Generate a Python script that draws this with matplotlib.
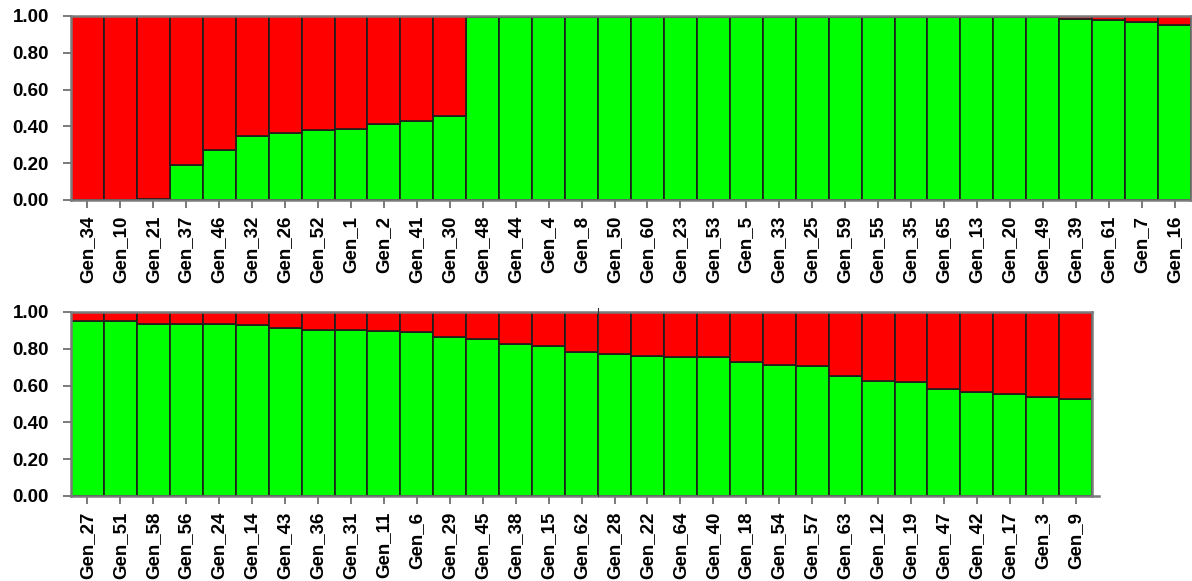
import matplotlib
matplotlib.use("Agg")
import matplotlib.pyplot as plt
import numpy as np
from matplotlib.ticker import FixedLocator, FormatStrFormatter

plt.rcParams['font.family'] = ['Liberation Sans', 'DejaVu Sans']

# Membership proportions for the green cluster; red is the remainder (1 - green)
top_labels = ["Gen_34", "Gen_10", "Gen_21", "Gen_37", "Gen_46", "Gen_32", "Gen_26",
              "Gen_52", "Gen_1", "Gen_2", "Gen_41", "Gen_30", "Gen_48", "Gen_44",
              "Gen_4", "Gen_8", "Gen_50", "Gen_60", "Gen_23", "Gen_53", "Gen_5",
              "Gen_33", "Gen_25", "Gen_59", "Gen_55", "Gen_35", "Gen_65", "Gen_13",
              "Gen_20", "Gen_49", "Gen_39", "Gen_61", "Gen_7", "Gen_16"]
top_green = [0.000, 0.000, 0.005, 0.188, 0.273, 0.349, 0.363,
             0.378, 0.387, 0.414, 0.429, 0.454, 0.995, 0.995,
             0.995, 0.995, 0.995, 0.995, 0.995, 0.995, 0.995,
             0.995, 0.995, 0.995, 0.995, 0.995, 0.995, 0.995,
             0.995, 0.995, 0.985, 0.976, 0.967, 0.952]

bottom_labels = ["Gen_27", "Gen_51", "Gen_58", "Gen_56", "Gen_24", "Gen_14", "Gen_43",
                 "Gen_36", "Gen_31", "Gen_11", "Gen_6", "Gen_29", "Gen_45", "Gen_38",
                 "Gen_15", "Gen_62", "Gen_28", "Gen_22", "Gen_64", "Gen_40", "Gen_18",
                 "Gen_54", "Gen_57", "Gen_63", "Gen_12", "Gen_19", "Gen_47", "Gen_42",
                 "Gen_17", "Gen_3", "Gen_9"]
bottom_green = [0.949, 0.949, 0.935, 0.935, 0.935, 0.928, 0.913,
                0.904, 0.904, 0.899, 0.892, 0.863, 0.855, 0.826,
                0.817, 0.783, 0.770, 0.763, 0.755, 0.755, 0.728,
                0.712, 0.705, 0.654, 0.625, 0.618, 0.580, 0.565,
                0.553, 0.536, 0.529]

y_ticks = [0.0, 0.2, 0.4, 0.6, 0.8, 1.0]

GREEN = "#00ff00"
RED = "#ff0000"
EDGE = "#1e1e1e"
FRAME = "#7a7a7a"

W, H = 1192, 581
fig = plt.figure(figsize=(W / 100, H / 100), dpi=100)

bar_px = 1120 / 34.0


def panel(rect, labels, green):
    ax = fig.add_axes(rect)
    x = np.arange(len(labels))
    g = np.array(green)
    ax.bar(x, g, width=1.0, color=GREEN, edgecolor=EDGE, linewidth=1.2, zorder=2)
    ax.bar(x, 1.0 - g, bottom=g, width=1.0, color=RED, edgecolor=EDGE,
           linewidth=1.2, zorder=2)
    ax.set_xlim(-0.5, len(labels) - 0.5)
    ax.set_ylim(0, 1.0)
    ax.yaxis.set_major_locator(FixedLocator(y_ticks))
    ax.yaxis.set_major_formatter(FormatStrFormatter("%.2f"))
    ax.set_xticks(x)
    ax.set_xticklabels(labels, rotation=90, fontsize=13.5, fontweight="bold")
    for t in ax.get_yticklabels():
        t.set_fontsize(13.5)
        t.set_fontweight("bold")
    ax.tick_params(axis="both", direction="out", length=6, width=1.4,
                   color=FRAME)
    ax.tick_params(axis="y", pad=10)
    ax.tick_params(axis="x", pad=5.5)
    for s in ax.spines.values():
        s.set_color(FRAME)
        s.set_linewidth(1.8)
        s.set_zorder(3)
    return ax


ax1 = panel([71 / W, 1 - 200 / H, 1120 / W, 184 / H], top_labels, top_green)

bw = bar_px * len(bottom_labels)
ax2 = panel([71 / W, 1 - 496 / H, bw / W, 184 / H], bottom_labels, bottom_green)
ax2.spines["bottom"].set_bounds(-0.5, len(bottom_labels) - 0.5 + 0.22)
# seam between the two halves of the lower panel
ax2.plot([15.5, 15.5], [0, 1.02], color="#333333", lw=0.8, clip_on=False, zorder=4)

fig.savefig("out.png", dpi=100)
